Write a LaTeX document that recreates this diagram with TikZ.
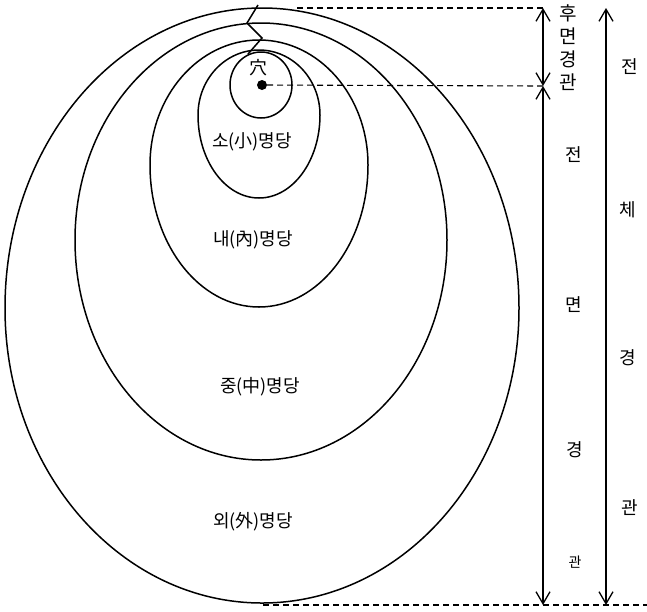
\documentclass[tikz,border=0pt]{standalone}
\usepackage{fontspec}
\setmainfont{Noto Sans CJK KR}
\usetikzlibrary{arrows.meta,positioning}
% egg outline: centre x, top y, left rx, right rx, upper ry, lower ry
\newcommand{\eggpath}[6]{(#1,#2)
  arc[start angle=270,end angle=360,x radius=#4,y radius=#5]
  arc[start angle=0,end angle=90,x radius=#4,y radius=#6]
  arc[start angle=90,end angle=180,x radius=#3,y radius=#6]
  arc[start angle=180,end angle=270,x radius=#3,y radius=#5] -- cycle}

\begin{document}
\begin{tikzpicture}[x=1pt,y=-1pt,
  rim/.style={draw=black,line width=1.5pt},
  guide/.style={draw=black,line width=1.1pt,dash pattern=on 6pt off 4pt},
  span/.style={draw=black,line width=1.1pt,{Straight Barb[length=12pt,width=14pt,line width=1.3pt]}-{Straight Barb[length=12pt,width=14pt,line width=1.3pt]}},
  zone/.style={font=\fontsize{18}{20}\selectfont,inner sep=1pt},
  vchar/.style={font=\fontsize{18}{20}\selectfont,inner sep=1pt},
]
\useasboundingbox (0,0) rectangle (647,611);

% nested myeongdang outlines
\draw[rim] \eggpath{262}{8}{257}{257}{300}{295};
\draw[rim] \eggpath{261}{23}{186}{186}{217}{220};
\draw[rim] \eggpath{259}{40}{109}{109}{125}{142};
\draw[rim] \eggpath{259}{50}{61}{61}{65}{83};
\draw[rim] (261,85) ellipse[x radius=31,y radius=33];
\draw[rim] (258,5) -- (247,23) -- (262,38) -- (248,54);

% hyeol
\node[circle,fill=black,inner sep=0pt,minimum size=10pt] (hyeol) at (262,85) {};
\node[zone] (hyeolname) at (258,68) {穴};

\node[zone] (small) at (252,142) {소(小)명당};
\node[zone] (inner) at (253,240) {내(內)명당};
\node[zone] (middle) at (260,387) {중(中)명당};
\node[zone] (outer) at (253,522) {외(外)명당};

% measuring lines
\coordinate (topstart) at (297,8);
\coordinate (botstart) at (263,605);
\coordinate (botend) at (647,605);
\coordinate (backtop) at (543,8);
\coordinate (backbot) at (543,86);
\coordinate (frontbot) at (543,605);
\coordinate (alltop) at (606,8);
\coordinate (allbot) at (606,605);

\draw[guide] (topstart) -- (backtop);
\draw[guide] (hyeol) -- (backbot);
\draw[guide] (botstart) -- (botend);

\draw[span] (backtop) -- (backbot);
\draw[span] (backbot) -- (frontbot);
\draw[span] (alltop) -- (allbot);

% back view
\node[font=\fontsize{19}{23}\selectfont,align=center,inner sep=0pt] (back) at (568,48) {후\\면\\경\\관};

% front view
\node[vchar] (front1) at (574,155) {전};
\node[vchar] (front2) at (574,305) {면};
\node[vchar] (front3) at (575,450) {경};
\node[vchar,font=\fontsize{14}{16}\selectfont] (front4) at (575,562) {관};

% whole view
\node[vchar] (whole1) at (630,67) {전};
\node[vchar] (whole2) at (628,210) {체};
\node[vchar] (whole3) at (628,358) {경};
\node[vchar] (whole4) at (630,508) {관};
\end{tikzpicture}
\end{document}
